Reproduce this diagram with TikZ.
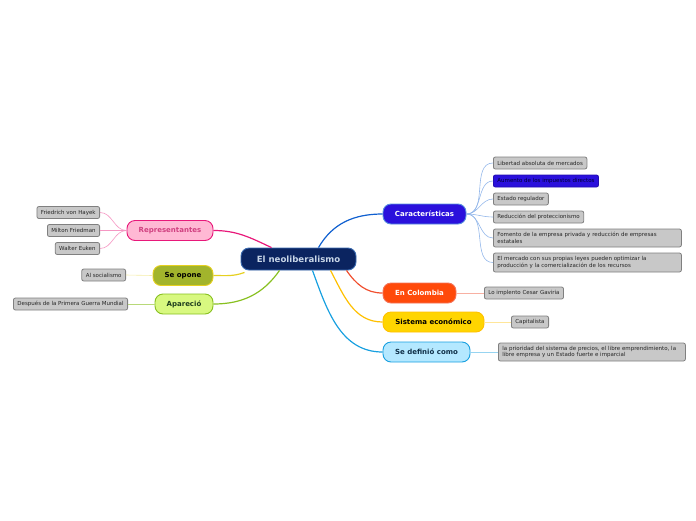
\documentclass[tikz,border=0pt]{standalone}
\usepackage{fontspec}
\setmainfont{DejaVu Sans}
\usepackage{xcolor}
\usetikzlibrary{positioning}

\definecolor{rootfill}{HTML}{0B2460}
\definecolor{rootline}{HTML}{3A6AB0}
\definecolor{roottext}{HTML}{C8D6E8}
\definecolor{carfill}{HTML}{2A10DC}
\definecolor{carline}{HTML}{1060D0}
\definecolor{colfill}{HTML}{FF4A0A}
\definecolor{colline}{HTML}{F05030}
\definecolor{sisfill}{HTML}{FFD500}
\definecolor{sisline}{HTML}{FFC000}
\definecolor{deffill}{HTML}{B4E8FF}
\definecolor{defline}{HTML}{18A0E0}
\definecolor{deftext}{HTML}{103048}
\definecolor{repfill}{HTML}{FFB8D4}
\definecolor{repline}{HTML}{E8187A}
\definecolor{reptext}{HTML}{D04080}
\definecolor{opofill}{HTML}{A2B42C}
\definecolor{opoline}{HTML}{E6D020}
\definecolor{apafill}{HTML}{D8F880}
\definecolor{apaline}{HTML}{88C020}
\definecolor{apatext}{HTML}{1E3E1E}
\definecolor{leaffill}{HTML}{C8C8C8}
\definecolor{leafline}{HTML}{808080}

\begin{document}
\begin{tikzpicture}[
x=1pt, y=-1pt,
topic/.style={draw, line width=0.9pt, rounded corners=8pt, align=center, minimum height=20pt, inner sep=0pt, font=\fontsize{7}{8}\selectfont\bfseries},
leaf/.style={draw=leafline, line width=0.8pt, fill=leaffill, rounded corners=2pt, align=left, minimum height=12pt, inner xsep=4pt, inner ysep=2pt, text=black!85, font=\fontsize{5.5}{6.8}\selectfont},
branch/.style={line width=1.2pt},
twig/.style={line width=0.6pt}
]
\useasboundingbox (0,0) rectangle (696,520);

% centre
\node[topic, fill=rootfill, draw=rootline, text=roottext, minimum width=115pt, minimum height=22pt, font=\fontsize{8.6}{10}\selectfont\bfseries] (root) at (298.5,259) {El neoliberalismo};

% right side
\node[topic, fill=carfill, draw=carline!70, text=white, minimum width=83pt] (car) at (424.5,214) {Características};
\node[topic, fill=colfill, draw=colline!80, text=white, minimum width=73pt] (col) at (419.5,293) {En Colombia};
\node[topic, fill=sisfill, draw=sisline, text=black, minimum width=101pt] (sis) at (433.5,322) {Sistema económico};
\node[topic, fill=deffill, draw=defline, text=deftext, minimum width=87pt] (def) at (426.5,352) {Se definió como};

% left side
\node[topic, fill=repfill, draw=repline, text=reptext, minimum width=86pt] (rep) at (170,230.5) {Representantes};
\node[topic, fill=opofill, draw=opoline, text=black, minimum width=60pt] (opo) at (183,275.5) {Se opone};
\node[topic, fill=apafill, draw=apaline, text=apatext, minimum width=58pt] (apa) at (184,304) {Apareció};

% leaves of Caracteristicas
\node[leaf, anchor=west] (libre) at (493,163) {Libertad absoluta de mercados};
\node[leaf, anchor=west, fill=carfill, draw=carfill!80!black, text=black!80!blue] (impuestos) at (493,181) {Aumento de los impuestos directos};
\node[leaf, anchor=west] (estado) at (493,199) {Estado regulador};
\node[leaf, anchor=west] (proteccion) at (493,217) {Reducción del proteccionismo};
\node[leaf, anchor=west, text width=180pt, minimum height=18pt] (fomento) at (493,238) {Fomento de la empresa privada y reducción de empresas\\estatales};
\node[leaf, anchor=west, text width=180pt, minimum height=19pt] (mercado) at (493,262.5) {El mercado con sus propias leyes pueden optimizar la\\producción y la comercialización de los recursos};

% other leaves on the right
\node[leaf, anchor=west] (gaviria) at (484,293) {Lo implento Cesar Gaviria};
\node[leaf, anchor=west] (capital) at (511,322) {Capitalista};
\node[leaf, anchor=west, text width=179pt, minimum height=18pt] (prioridad) at (498,352) {la prioridad del sistema de precios, el libre emprendimiento, la\\libre empresa y un Estado fuerte e imparcial};

% leaves on the left
\node[leaf, anchor=east] (hayek) at (100,212.5) {Friedrich von Hayek};
\node[leaf, anchor=east] (friedman) at (100,230.5) {Milton Friedman};
\node[leaf, anchor=east] (euken) at (100,248.5) {Walter Euken};
\node[leaf, anchor=east] (socialismo) at (126,275) {Al socialismo};
\node[leaf, anchor=east] (guerra) at (128,304) {Después de la Primera Guerra Mundial};

% branches from the centre
\draw[branch, carline] ([xshift=20pt]root.north) to[out=60, in=180] (car.west);
\draw[branch, colline] ([xshift=48pt]root.south) to[out=-55, in=180] (col.west);
\draw[branch, sisline] ([xshift=32pt]root.south) to[out=-62, in=180] (sis.west);
\draw[branch, defline] ([xshift=14pt]root.south) to[out=-70, in=180] (def.west);
\draw[branch, repline] ([xshift=-27pt]root.north) to[out=155, in=0] (rep.east);
\draw[branch, opoline] ([xshift=4pt,yshift=-2pt]root.south west) to[out=-160, in=0] (opo.east);
\draw[branch, apaline] ([xshift=-19pt]root.south) to[out=-125, in=0] (apa.east);

% twigs
\foreach \t in {libre, impuestos, estado, proteccion, fomento, mercado}
  \draw[twig, carline!45] (car.east) to[out=0, in=180] (\t.west);
\foreach \t in {hayek, friedman, euken}
  \draw[twig, repline!45] (rep.west) to[out=180, in=0] (\t.east);
\draw[twig, colline!45] (col.east) -- (gaviria.west);
\draw[twig, sisline!40] (sis.east) -- (capital.west);
\draw[twig, defline!45] (def.east) -- (prioridad.west);
\draw[twig, opoline!40] (opo.west) -- (socialismo.east);
\draw[twig, apaline!60] (apa.west) -- (guerra.east);
\end{tikzpicture}
\end{document}
